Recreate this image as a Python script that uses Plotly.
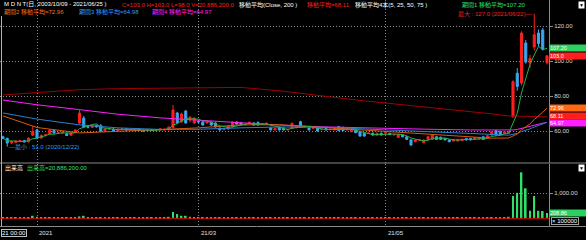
import plotly.graph_objects as go
import pandas as pd

# ---------------- data ----------------
month_days = {
    "2020-12": [21, 22, 23, 24, 28, 29, 30, 31],
    "2021-01": [4, 5, 6, 7, 8, 11, 12, 13, 14, 15, 19, 20, 21, 22, 25, 26, 27, 28, 29],
    "2021-02": [1, 2, 3, 4, 5, 8, 9, 10, 11, 12, 16, 17, 18, 19, 22, 23, 24, 25, 26],
    "2021-03": [1, 2, 3, 4, 5, 8, 9, 10, 11, 12, 15, 16, 17, 18, 19, 22, 23, 24, 25, 26, 29, 30, 31],
    "2021-04": [1, 5, 6, 7, 8, 9, 12, 13, 14, 15, 16, 19, 20, 21, 22, 23, 26, 27, 28, 29, 30],
    "2021-05": [3, 4, 5, 6, 7, 10, 11, 12, 13, 14, 17, 18, 19, 20, 21, 24, 25, 26, 27, 28],
    "2021-06": [1, 2, 3, 4, 7, 8, 9, 10, 11, 14, 15, 16, 17, 18, 21, 22, 23, 24, 25],
}
dates = [f"{m}-{d:02d}" for m, ds in month_days.items() for d in ds]

opens = [56.7, 55.8, 53.2, 53.6, 54.2, 54.6, 53.9, 57.6, 60.6, 56.0,
         57.5, 58.4, 60.3, 58.8, 58.9, 58.4, 57.6, 59.0, 64.6, 67.4,
         62.6, 62.1, 63.2, 63.0, 60.0, 61.0, 61.0, 60.2, 60.8, 61.2,
         60.6, 60.4, 61.0, 60.3, 60.0, 60.6, 60.4, 60.8, 60.6, 60.6,
         62.0, 70.3, 65.1, 71.4, 66.3, 64.6, 65.5, 65.1, 64.6, 65.1,
         64.6, 61.7, 60.8, 61.1, 62.3, 65.1, 64.6, 63.6, 64.3, 64.6,
         64.8, 63.7, 64.0, 61.7, 60.6, 62.1, 61.7, 60.6, 61.5, 62.1,
         65.3, 62.5, 61.7, 61.6, 61.7, 60.8, 61.5, 60.8, 60.6, 62.5,
         62.0, 60.6, 59.6, 60.6, 59.6, 58.7, 58.6, 58.7, 57.7, 58.7,
         58.8, 58.6, 57.8, 56.4, 57.7, 56.7, 54.9, 53.9, 54.8, 53.3,
         55.2, 55.2, 56.7, 56.4, 55.8, 54.9, 54.3, 54.3, 54.5, 55.8,
         55.8, 55.2, 55.4, 56.7, 55.8, 57.7, 60.2, 59.6, 58.7, 58.7,
         68.2, 93.0, 87.4, 110.3, 98.9, 108.0, 116.0, 117.7, 99.0]
highs = [57.3, 56.2, 54.6, 54.6, 55.0, 54.9, 56.4, 63.0, 61.2, 58.0,
         58.2, 61.0, 61.0, 59.4, 59.8, 58.9, 59.4, 61.0, 72.0, 68.6,
         63.0, 63.6, 63.6, 64.0, 61.5, 61.8, 62.0, 61.4, 61.6, 61.8,
         61.4, 61.0, 61.5, 60.8, 60.9, 61.2, 61.0, 61.5, 61.3, 62.5,
         75.0, 71.0, 70.5, 72.0, 68.6, 67.8, 65.8, 65.6, 65.4, 65.5,
         65.0, 62.0, 61.5, 63.2, 65.5, 65.6, 65.2, 64.0, 65.3, 65.0,
         65.6, 64.6, 64.8, 62.2, 61.8, 62.4, 62.0, 61.2, 64.8, 63.3,
         65.8, 63.0, 62.0, 62.2, 62.0, 61.4, 61.8, 61.3, 61.8, 62.8,
         62.6, 61.8, 61.3, 61.0, 60.0, 59.0, 59.0, 59.2, 59.0, 59.0,
         59.2, 59.0, 58.3, 58.4, 58.0, 57.0, 55.4, 55.2, 55.2, 55.2,
         57.0, 58.0, 57.0, 56.8, 56.0, 55.2, 55.5, 55.5, 55.6, 56.0,
         56.0, 56.5, 56.5, 57.0, 57.6, 59.9, 60.6, 60.0, 59.9, 59.9,
         89.0, 96.0, 117.0, 112.0, 103.5, 127.0, 118.0, 119.0, 103.0]
lows = [55.4, 51.0, 52.6, 53.0, 53.6, 53.4, 53.5, 57.2, 55.4, 55.8,
        56.9, 58.0, 58.6, 58.2, 58.5, 57.2, 57.4, 58.8, 63.8, 62.0,
        61.5, 61.8, 62.0, 59.6, 59.8, 60.6, 59.8, 60.0, 60.2, 60.4,
        60.0, 59.8, 60.0, 59.6, 59.8, 60.0, 60.0, 60.2, 60.2, 60.4,
        61.5, 64.0, 64.8, 64.2, 65.0, 64.0, 64.6, 63.0, 64.2, 63.0,
        62.0, 60.3, 60.4, 60.8, 62.0, 63.6, 63.4, 63.2, 64.0, 63.2,
        63.2, 63.4, 63.6, 60.3, 60.3, 60.3, 60.3, 60.2, 61.2, 61.8,
        62.2, 62.0, 60.3, 61.2, 59.8, 60.4, 60.3, 60.5, 60.3, 60.0,
        60.0, 60.3, 59.3, 58.8, 56.8, 56.8, 58.3, 57.4, 57.4, 57.4,
        58.6, 57.8, 57.5, 56.0, 56.4, 55.0, 51.5, 53.5, 54.5, 53.0,
        55.0, 55.0, 55.0, 55.0, 54.6, 53.6, 54.0, 54.0, 54.2, 54.6,
        54.6, 55.0, 55.2, 55.0, 55.5, 57.4, 57.4, 57.4, 58.4, 58.4,
        67.5, 83.0, 86.0, 98.5, 96.0, 106.0, 108.0, 106.0, 98.0]
closes = [55.8, 53.1, 54.0, 54.2, 54.6, 53.7, 55.9, 59.6, 55.9, 57.5,
          57.8, 60.5, 58.9, 58.9, 59.2, 57.4, 59.0, 60.6, 70.3, 62.3,
          62.2, 63.2, 62.3, 59.9, 61.2, 61.4, 60.2, 61.0, 61.2, 60.6,
          60.9, 60.8, 60.3, 60.0, 60.6, 60.4, 60.8, 61.2, 61.0, 62.2,
          72.0, 64.6, 69.7, 64.6, 67.4, 67.4, 65.2, 63.4, 65.1, 63.4,
          62.3, 60.6, 61.0, 62.9, 65.1, 64.0, 63.7, 63.8, 65.0, 63.4,
          63.4, 64.2, 64.4, 60.6, 61.5, 60.6, 60.6, 61.0, 64.4, 63.0,
          62.5, 62.6, 60.6, 61.9, 60.0, 61.0, 60.6, 61.0, 61.5, 60.2,
          60.3, 61.5, 61.0, 59.0, 57.1, 57.1, 58.8, 57.7, 58.7, 57.7,
          59.0, 58.0, 58.0, 58.1, 56.7, 55.2, 52.0, 54.9, 54.9, 54.9,
          56.7, 57.7, 55.2, 55.2, 54.9, 53.9, 55.2, 55.2, 55.3, 54.9,
          54.9, 56.2, 56.2, 55.2, 57.3, 59.6, 57.7, 57.7, 59.6, 59.5,
          88.2, 85.5, 116.0, 99.4, 101.4, 115.0, 110.0, 106.6, 103.0]
volumes = [40, 45, 40, 45, 40, 45, 50, 100, 60, 45,
           40, 45, 50, 40, 45, 40, 45, 50, 75, 100,
           45, 40, 45, 40, 45, 40, 45, 40, 45, 40,
           45, 40, 45, 40, 45, 40, 45, 40, 45, 60,
           250, 170, 100, 100, 60, 45, 40, 45, 40, 45,
           40, 45, 40, 45, 40, 45, 40, 45, 40, 45,
           40, 45, 40, 45, 40, 45, 40, 45, 40, 45,
           40, 45, 40, 45, 40, 45, 40, 45, 40, 45,
           40, 45, 40, 45, 40, 45, 40, 45, 40, 45,
           40, 45, 40, 45, 40, 45, 40, 45, 40, 45,
           40, 45, 40, 45, 40, 45, 40, 45, 40, 45,
           40, 45, 40, 45, 40, 45, 40, 45, 40, 60,
           892, 1020, 1840, 1200, 300, 892, 300, 290, 208.86]

ma_dates = ["2020-12-21", "2021-01-04", "2021-01-19", "2021-02-01", "2021-02-16",
            "2021-03-01", "2021-03-15", "2021-03-26", "2021-04-12", "2021-04-26",
            "2021-05-03", "2021-05-17", "2021-06-01", "2021-06-08", "2021-06-14",
            "2021-06-15", "2021-06-16", "2021-06-17", "2021-06-18", "2021-06-21",
            "2021-06-22", "2021-06-23", "2021-06-24", "2021-06-25"]
ma25 = [68.6, 62.0, 58.9, 60.0, 60.8, 61.8, 63.5, 63.6, 62.0, 60.5,
        59.8, 58.0, 56.3, 55.9, 56.0, 57.2, 58.3, 60.7, 62.4, 64.1,
        66.5, 68.7, 70.9, 72.96]
ma50 = [70.3, 66.8, 63.5, 61.8, 60.9, 61.0, 61.8, 62.3, 62.2, 61.3,
        60.8, 59.6, 58.6, 57.9, 57.6, 58.1, 58.6, 59.7, 60.4, 61.2,
        62.3, 63.2, 64.2, 64.98]
ma75 = [77.7, 75.0, 72.2, 69.6, 67.5, 66.2, 64.6, 63.4, 62.4, 61.7,
        61.4, 61.0, 60.6, 60.4, 60.3, 60.6, 60.9, 61.6, 62.1, 62.6,
        63.3, 63.9, 64.5, 64.97]
ma200 = [80.6, 82.0, 83.6, 84.2, 84.5, 84.8, 84.9, 83.0, 80.0, 77.2,
         76.0, 73.6, 71.0, 69.8, 68.6, 68.5, 68.4, 68.35, 68.3, 68.25,
         68.2, 68.15, 68.13, 68.11]

tick_dates = ["2021-01-04", "2021-03-01", "2021-05-03"]
tick_text = ["2021", "21/03", "21/05"]
price_ticks = [60, 80, 100, 120]
vol_ticks = [1000]

# ---------------- style ----------------
W, H = 586, 240
RED = "#ff1e1e"
BLUE = "#3aa8f0"
GREEN = "#2ee06a"
ORANGE = "#ff6a10"
MAGENTA = "#ff20ff"
DARKRED = "#a00000"
MABLUE = "#2f7fd0"
GRID = "#8a8a8a"
DOT = "1px,2px"
FONT = "Liberation Sans, Noto Sans CJK JP"
FS = 6

xd = 549 / W
def py(p):  # pixel y -> paper
    return 1 - p / H

ma5 = pd.Series(closes).rolling(5, min_periods=1).mean().tolist()

fig = go.Figure()
for vals, col in [(ma200, DARKRED), (ma75, MAGENTA), (ma50, MABLUE), (ma25, "#d85a10")]:
    fig.add_trace(go.Scatter(x=ma_dates, y=vals, mode="lines", line=dict(color=col, width=1),
                             xaxis="x", yaxis="y", hoverinfo="skip"))
fig.add_trace(go.Scatter(x=dates, y=ma5, mode="lines", line=dict(color="#22b04a", width=1),
                         xaxis="x", yaxis="y", hoverinfo="skip"))
fig.add_trace(go.Candlestick(
    x=dates, open=opens, high=highs, low=lows, close=closes,
    increasing=dict(line=dict(color=RED, width=1), fillcolor=RED),
    decreasing=dict(line=dict(color=BLUE, width=1), fillcolor=BLUE),
    xaxis="x", yaxis="y", hoverinfo="skip"))
fig.add_trace(go.Bar(x=dates, y=volumes, marker=dict(color=GREEN, line=dict(width=0)),
                     width=0.4, xaxis="x2", yaxis="y2", hoverinfo="skip"))

xcommon = dict(type="category", categoryorder="array", categoryarray=dates,
               range=[-0.706, 128.47], domain=[0, xd], showgrid=True, gridcolor=GRID,
               griddash=DOT, gridwidth=1, tickvals=tick_dates, showticklabels=False,
               ticks="", zeroline=False, showline=False, fixedrange=True)
fig.update_layout(
    width=W, height=H, margin=dict(l=0, r=0, t=0, b=0),
    paper_bgcolor="black", plot_bgcolor="black", showlegend=False,
    font=dict(family=FONT, size=FS, color="#e0e0e0"),
    xaxis=dict(anchor="y", rangeslider=dict(visible=False), **xcommon),
    xaxis2=dict(anchor="y2", matches="x", **xcommon),
    yaxis=dict(domain=[py(163), 1], range=[60 - 32 / 1.75, 120 + 26 / 1.75], side="right",
               anchor="x", tickvals=price_ticks, ticktext=[f"{v:.2f}" for v in price_ticks],
               showgrid=True, gridcolor=GRID, griddash=DOT, zeroline=False,
               showline=True, linecolor=GRID, ticks="outside", ticklen=3, tickcolor=GRID,
               tickfont=dict(size=FS, color="#d8d8d8", family=FONT)),
    yaxis2=dict(domain=[py(226), py(164)], range=[-308, 2172], side="right", anchor="x2",
                tickvals=vol_ticks, ticktext=["1,000.00"], showgrid=True, gridcolor=GRID,
                griddash=DOT, zeroline=False, showline=True, linecolor=GRID,
                ticks="outside", ticklen=3, tickcolor=GRID,
                tickfont=dict(size=FS, color="#d8d8d8", family=FONT)),
)

shapes = [
    dict(type="line", xref="paper", yref="paper", x0=0, x1=1, y0=py(163), y1=py(163), line=dict(color=GRID, width=1)),
    dict(type="line", xref="paper", yref="paper", x0=0, x1=1, y0=py(226.5), y1=py(226.5), line=dict(color=GRID, width=1)),
    dict(type="line", xref="paper", yref="paper", x0=1.5 / W, x1=1.5 / W, y0=py(16), y1=py(226.5), line=dict(color="#b0b0b0", width=1)),
    dict(type="line", xref="paper", yref="y2", x0=0, x1=xd, y0=0, y1=0, line=dict(color="#e00000", width=1)),
]
fig.update_layout(shapes=shapes)

ann = []
def txt(x, y, s, color, anchor="left", size=FS, **kw):
    ann.append(dict(xref="paper", yref="paper", x=x / W, y=py(y), text=s, showarrow=False,
                    xanchor=anchor, yanchor="middle", font=dict(color=color, size=size, family=FONT), **kw))

# header row 1
txt(2, 4.5, "M D N T(日, 2003/10/09 - 2021/06/25 )", "#ffffff")
txt(120, 4.5, f"C={closes[-1]:.1f} H={highs[-1]:.1f} L={lows[-1]:.1f} V=20,886,200.0", RED)
txt(237, 4.5, "移動平均(Close, 200 )", "#ffffff")
txt(305, 4.5, f"移動平均={ma200[-1]:.2f}", RED)
txt(353, 4.5, "移動平均4本(5, 25, 50, 75 )", "#ffffff")
txt(460, 4.5, f"期間1 移動平均={ma5[-1]:.2f}", GREEN)
# header row 2
txt(2, 11.5, f"期間2 移動平均={ma25[-1]:.2f}", ORANGE)
txt(77, 11.5, f"期間3 移動平均={ma50[-1]:.2f}", "#3399ff")
txt(150, 11.5, f"期間4 移動平均={ma75[-1]:.2f}", MAGENTA)
# volume header
txt(3, 168, "出来高", "#ffffff")
txt(25, 168, "出来高=20,886,200.00", GREEN)
# x labels
for d, t in zip(tick_dates, tick_text):
    ann.append(dict(xref="x2", yref="paper", x=d, y=py(233), text=t, showarrow=False,
                    xanchor="left", yanchor="middle", font=dict(color="#e0e0e0", size=FS, family=FONT)))
txt(1, 233, "21 00:00", "#ffffff", bordercolor="#c0c0c0", borderwidth=1, borderpad=0)
txt(551, 221, "× 100000", "#ffffff", bordercolor="#a0a0a0", borderwidth=1, borderpad=0)
# corner icons
txt(585, 5, "▼", "#000000", anchor="right", size=5, bgcolor="#ffffff", borderpad=0)
txt(585, 168, "▼", "#000000", anchor="right", size=5, bgcolor="#ffffff", borderpad=0)

# max / min labels
imax = highs.index(max(highs))
imin = lows.index(min(lows))
ann.append(dict(xref="x", yref="y", x=dates[imax], y=max(highs), text=f"最大 : {max(highs):.1f} ({dates[imax].replace('-', '/')})—",
                showarrow=False, xanchor="right", yanchor="middle", xshift=0,
                font=dict(color=RED, size=FS, family=FONT)))
ann.append(dict(xref="x", yref="y", x=dates[imin], y=min(lows), text=f"—最小 : {min(lows):.1f} ({dates[imin].replace('-', '/')})",
                showarrow=False, xanchor="left", yanchor="middle", xshift=0,
                font=dict(color="#3399ff", size=FS, family=FONT)))

# value labels on the right axis
def tag(yref, v, s, bg, fg="#ffffff", ys=0):
    ann.append(dict(xref="paper", yref=yref, x=xd, y=v, text=s, showarrow=False, xanchor="left",
                    yanchor="middle", bgcolor=bg, width=37, height=6, align="left", borderpad=0,
                    yshift=ys, font=dict(color=fg, size=5.5, family=FONT)))
tag("y", ma5[-1], f"{ma5[-1]:.2f}", "#2ed060")
tag("y", closes[-1], f"{closes[-1]:.1f}", RED)
tag("y", ma25[-1], f"{ma25[-1]:.2f}", ORANGE)
tag("y", ma200[-1], f"{ma200[-1]:.2f}", RED, ys=0.5)
tag("y", ma75[-1], f"{ma75[-1]:.2f}", MAGENTA, ys=-0.5)
tag("y2", volumes[-1], f"{volumes[-1]:.2f}", "#2ed060")

fig.update_layout(annotations=ann)
fig.write_html("out.html")
